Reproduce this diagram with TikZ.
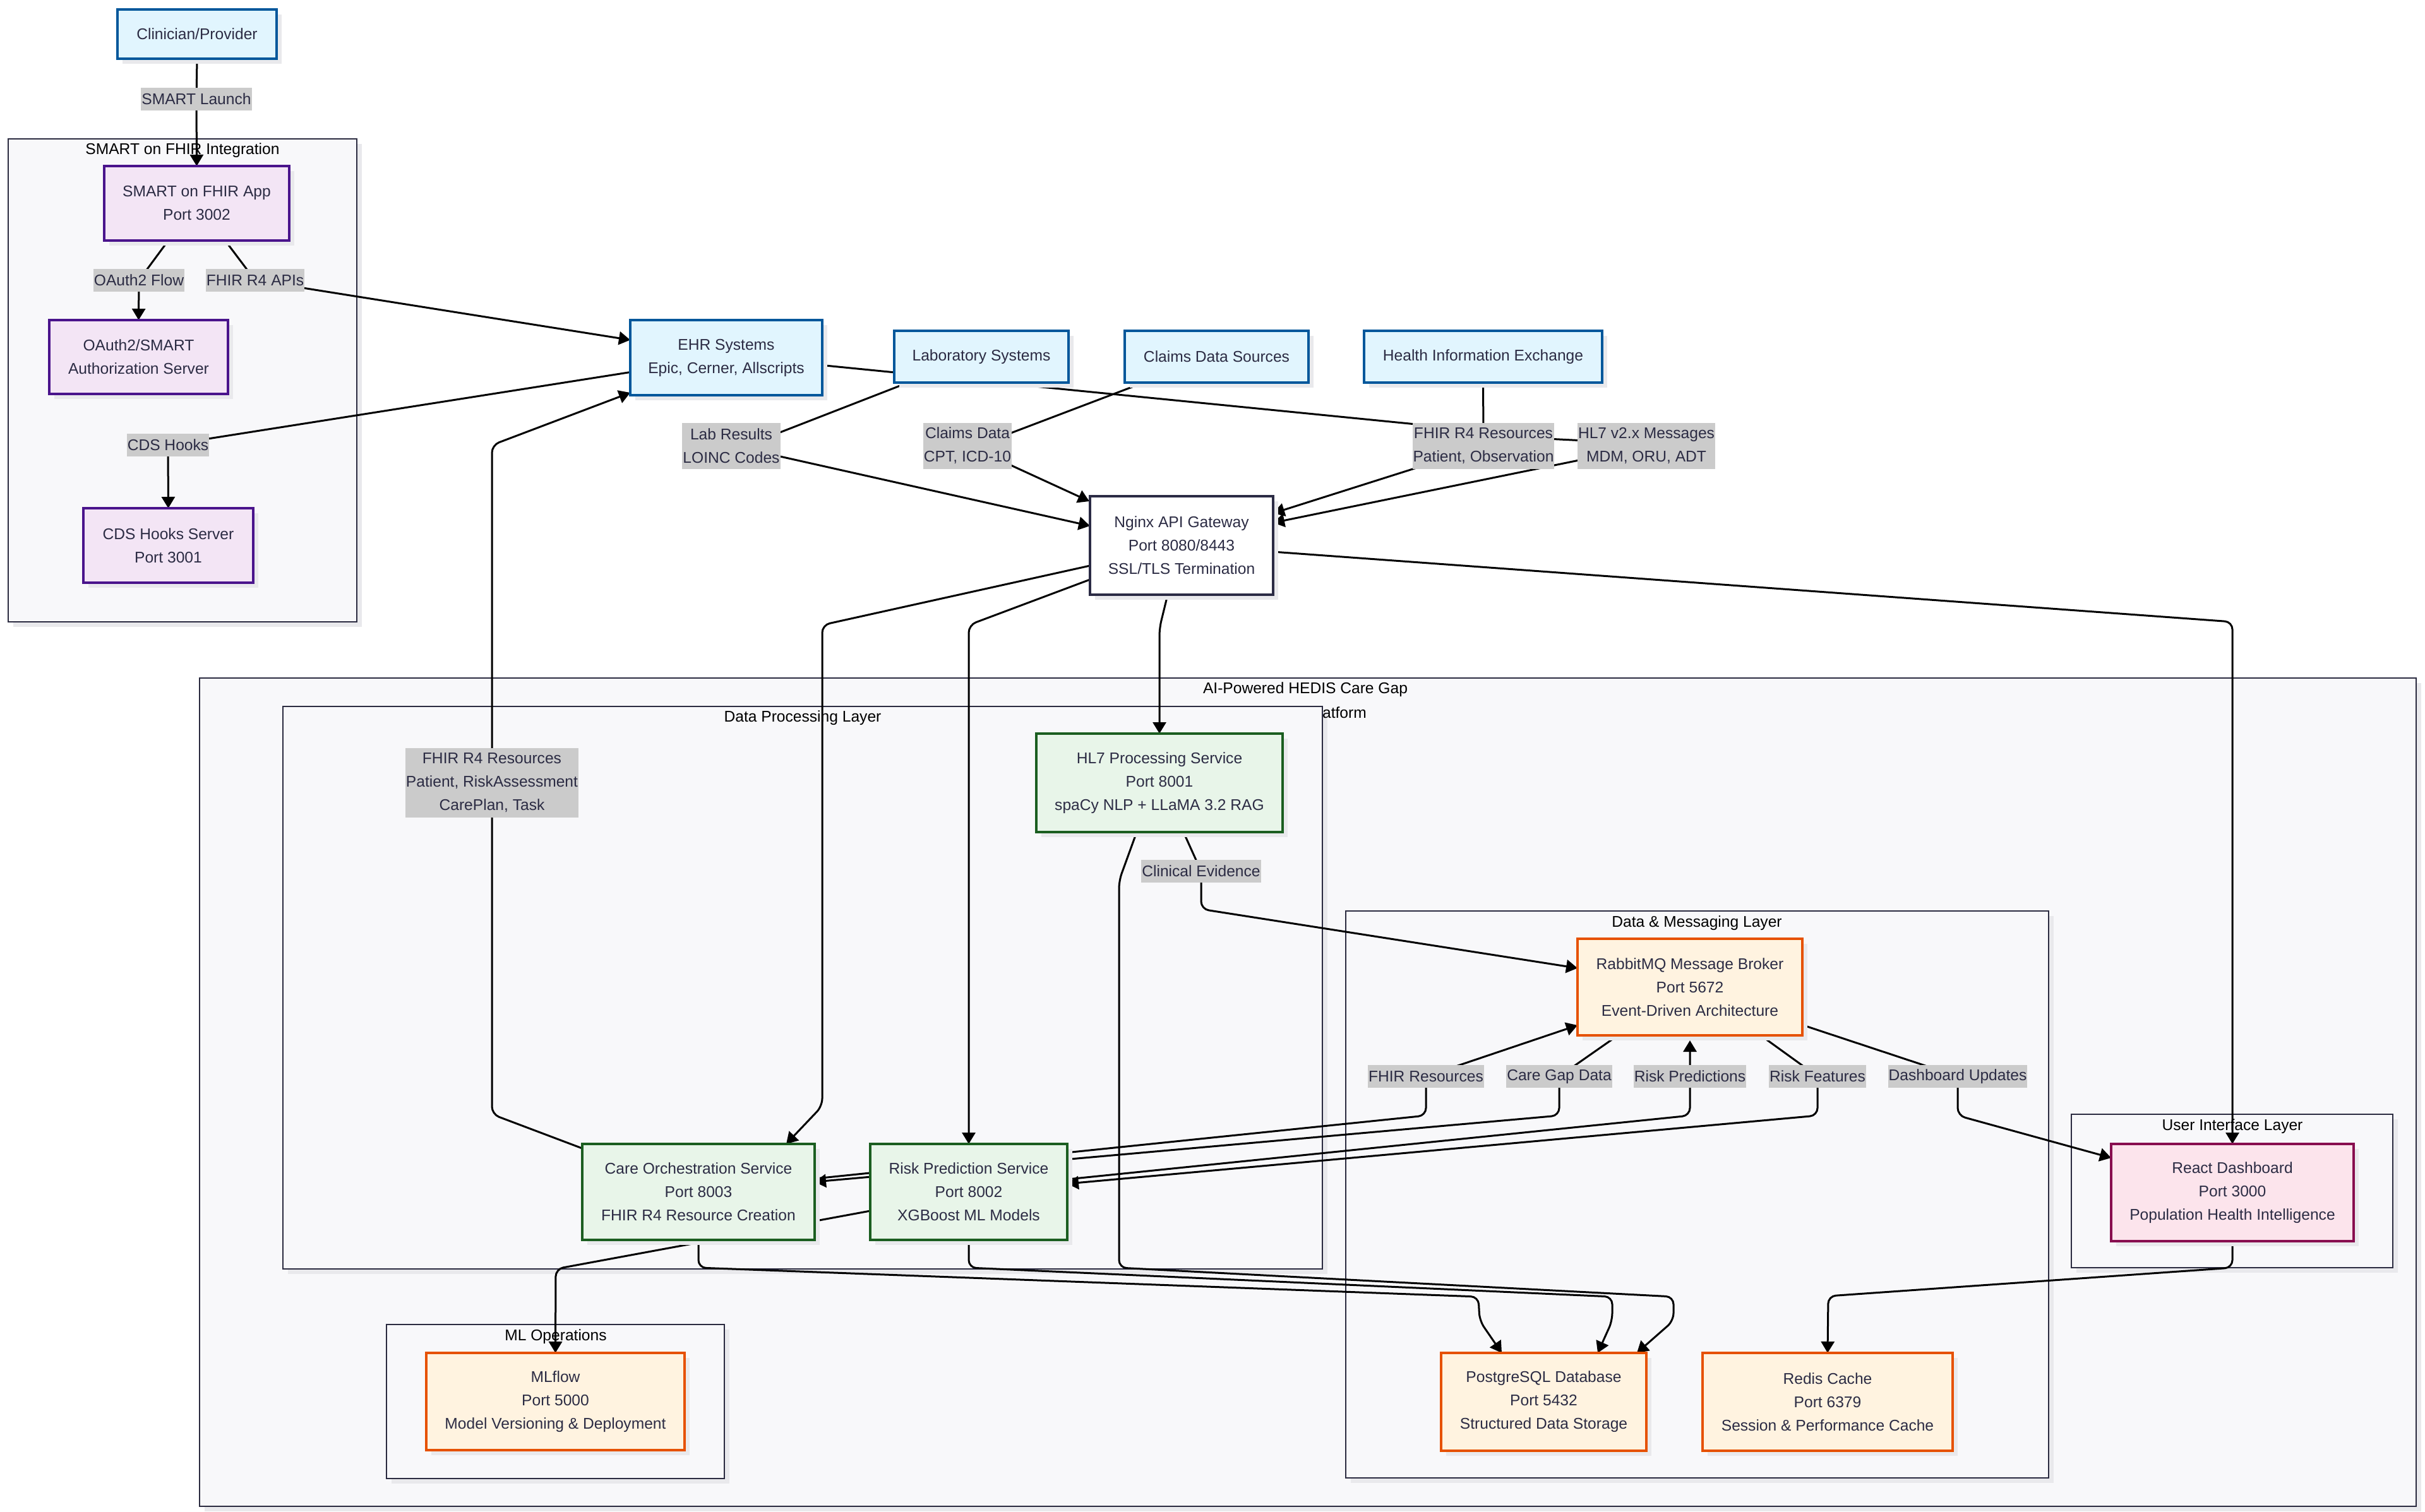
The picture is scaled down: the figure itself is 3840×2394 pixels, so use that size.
\documentclass[tikz,border=0pt]{standalone}
\usepackage{fontspec}
\setmainfont{Liberation Sans}
\usetikzlibrary{arrows.meta,calc,shadows}
\definecolor{extF}{HTML}{E1F5FE}\definecolor{extD}{HTML}{01579B}
\definecolor{smtF}{HTML}{F3E5F5}\definecolor{smtD}{HTML}{4A148C}
\definecolor{prcF}{HTML}{E8F5E9}\definecolor{prcD}{HTML}{1B5E20}
\definecolor{datF}{HTML}{FFF3E0}\definecolor{datD}{HTML}{E65100}
\definecolor{uiF}{HTML}{FCE4EC}\definecolor{uiD}{HTML}{880E4F}
\definecolor{gwD}{HTML}{2B2B45}
\definecolor{clF}{HTML}{F8F8FA}\definecolor{clD}{HTML}{2B2B40}
\definecolor{labF}{HTML}{CBCBCB}
\definecolor{txt}{HTML}{2C2C44}
\definecolor{shadowc}{HTML}{E9E9EC}
\pgfdeclarelayer{cl}\pgfdeclarelayer{ed}\pgfdeclarelayer{lb}
\pgfsetlayers{cl,ed,main,lb}
\newcommand\bx[7]{%
  \pgfmathsetmacro\bxw{(#5-#3)*0.5}%
  \pgfmathsetmacro\bxh{(#6-#4)*0.5}%
  \node[#2, minimum width=\bxw pt, minimum height=\bxh pt] (#1) at ({(#3+#5)/2},{(#4+#6)/2}) {#7};%
}
\newcommand\lbl[5]{%
  \pgfmathsetmacro\lblh{#4*18.5-0.5}%
  \node[lab, minimum height=\lblh pt] (#1) at (#2,#3) {#5};%
}
\newcommand\clbox[4]{%
  \draw[clus] (#1,#2) rectangle (#3,#4);%
}
\newcommand\clshadow[4]{%
  \fill[shadowc] ({#1+8},{#2+8}) rectangle ({#3+8},{#4+8});%
}
\begin{document}
\begin{tikzpicture}[x=0.5pt,y=-0.5pt,
  nodebase/.style={rectangle, draw, line width=1.6pt, inner sep=0pt, outer sep=0pt,
    align=center, text=txt, font=\fontsize{12.3pt}{18.5pt}\selectfont,
    drop shadow={shadow xshift=4pt,shadow yshift=-4pt,fill=shadowc,opacity=1}},
  ext/.style={nodebase, fill=extF, draw=extD},
  smt/.style={nodebase, fill=smtF, draw=smtD},
  proc/.style={nodebase, fill=prcF, draw=prcD},
  datn/.style={nodebase, fill=datF, draw=datD},
  uin/.style={nodebase, fill=uiF, draw=uiD},
  gw/.style={nodebase, fill=white, draw=gwD},
  lab/.style={rectangle, fill=labF, text=txt, inner xsep=0.5pt, inner ysep=0pt, outer sep=0pt,
    align=center, font=\fontsize{12.3pt}{18.5pt}\selectfont},
  clus/.style={fill=clF, draw=clD, line width=1.45pt},
  ctitle/.style={text=black, inner sep=0pt, font=\fontsize{12.3pt}{18.5pt}\selectfont},
  conn/.style={draw=black, line width=1.5pt, rounded corners=6pt, -{Triangle[length=9pt,width=10.5pt]}}
]
\useasboundingbox (0,0) rectangle (3840,2394);
\begin{pgfonlayer}{cl}
  \fill[white] (0,0) rectangle (3840,2394);
  % SMART cluster
  \clshadow{13}{220}{565}{985}
  \clbox{13}{220}{565}{985}
  \node[ctitle] (tSmart) at (289,238) {SMART on FHIR Integration};
  % main cluster
  \clshadow{316}{1074}{3826}{2386}
  \clbox{316}{1074}{3826}{2386}
  \clshadow{448}{1119}{2094}{2010}
  \clshadow{612}{2098}{1147}{2342}
  \clshadow{2131}{1443}{3244}{2341}
  \clshadow{3280}{1765}{3789}{2008}
  \node[ctitle] (tMain1) at (2067,1092) {AI-Powered HEDIS Care Gap};
  \node[ctitle] (tMain2) at (2118,1129) {Platform};
  \clbox{448}{1119}{2094}{2010}
  \node[ctitle] (tDPL) at (1271,1137) {Data Processing Layer};
  \clbox{612}{2098}{1147}{2342}
  \node[ctitle] (tML) at (880,2117) {ML Operations};
  \clbox{2131}{1443}{3244}{2341}
  \node[ctitle] (tDML) at (2687,1462) {Data \& Messaging Layer};
  \clbox{3280}{1765}{3789}{2008}
  \node[ctitle] (tUI) at (3535,1784) {User Interface Layer};
\end{pgfonlayer}

% nodes
\bx{clin}{ext}{186}{15}{438}{93}{Clinician/Provider}
\bx{smartapp}{smt}{165}{263}{458}{381}{SMART on FHIR App\\Port 3002}
\bx{oauth}{smt}{78}{507}{361}{624}{OAuth2/SMART\\Authorization Server}
\bx{cds}{smt}{132}{805}{401}{923}{CDS Hooks Server\\Port 3001}
\bx{ehr}{ext}{998}{507}{1302}{626}{EHR Systems\\Epic, Cerner, Allscripts}
\bx{lab}{ext}{1416}{524}{1692}{606}{Laboratory Systems}
\bx{claims}{ext}{1781}{524}{2072}{606}{Claims Data Sources}
\bx{hie}{ext}{2160}{524}{2537}{606}{Health Information Exchange}
\bx{nginx}{gw}{1726}{786}{2016}{942}{Nginx API Gateway\\Port 8080/8443\\SSL/TLS Termination}
\bx{hl7}{proc}{1641}{1162}{2031}{1318}{HL7 Processing Service\\Port 8001\\spaCy NLP + LLaMA 3.2 RAG}
\bx{careorch}{proc}{922}{1812}{1290}{1964}{Care Orchestration Service\\Port 8003\\FHIR R4 Resource Creation}
\bx{riskpred}{proc}{1378}{1812}{1690}{1964}{Risk Prediction Service\\Port 8002\\XGBoost ML Models}
\bx{rabbit}{datn}{2498}{1487}{2854}{1640}{RabbitMQ Message Broker\\Port 5672\\Event-Driven Architecture}
\bx{postgres}{datn}{2282}{2143}{2607}{2298}{PostgreSQL Database\\Port 5432\\Structured Data Storage}
\bx{redis}{datn}{2696}{2143}{3092}{2298}{Redis Cache\\Port 6379\\Session \& Performance Cache}
\bx{mlflow}{datn}{675}{2143}{1084}{2297}{MLflow\\Port 5000\\Model Versioning \& Deployment}
\bx{react}{uin}{3343}{1812}{3727}{1966}{React Dashboard\\Port 3000\\Population Health Intelligence}

% edge labels
\begin{pgfonlayer}{lb}
  \lbl{lSmart}{311}{157}{1}{SMART Launch}
  \lbl{lOauth}{220}{444}{1}{OAuth2 Flow}
  \lbl{lFhirApi}{404}{444}{1}{FHIR R4 APIs}
  \lbl{lCds}{266}{705}{1}{CDS Hooks}
  \lbl{lLab}{1158}{706}{2}{Lab Results\\LOINC Codes}
  \lbl{lClaims}{1532}{706}{2}{Claims Data\\CPT, ICD-10}
  \lbl{lFhirRes}{2349}{706}{2}{FHIR R4 Resources\\Patient, Observation}
  \lbl{lHl7}{2607}{706}{2}{HL7 v2.x Messages\\MDM, ORU, ADT}
  \lbl{lFhirRA}{779}{1240}{3}{FHIR R4 Resources\\Patient, RiskAssessment\\CarePlan, Task}
  \lbl{lClin}{1902}{1380}{1}{Clinical Evidence}
  \lbl{lFR}{2258}{1705}{1}{FHIR Resources}
  \lbl{lCGD}{2469}{1705}{1}{Care Gap Data}
  \lbl{lRP}{2676}{1705}{1}{Risk Predictions}
  \lbl{lRF}{2878}{1705}{1}{Risk Features}
  \lbl{lDU}{3100}{1705}{1}{Dashboard Updates}
\end{pgfonlayer}

% connectors
\begin{pgfonlayer}{ed}
  \draw[conn] (clin.south) -- (lSmart.center) -- (smartapp.north);
  \draw[conn] ($(smartapp.south)+(-45,0)$) -- (lOauth.center) -- (oauth.north);
  \draw[conn] ($(smartapp.south)+(45,0)$) -- (lFhirApi.center) -- ($(ehr.west)+(0,-28)$);
  \draw[conn] ($(ehr.west)+(0,23)$) -- (lCds.center) -- (cds.north);
  \draw[conn] ($(careorch.north west)+(0,7)$) -- (779,1765) -- (lFhirRA.center) -- (779,705) -- ($(ehr.south west)+(0,-4)$);
  \draw[conn] ($(ehr.east)+(0,12)$) -- (2262,674) -- (2262,735) -- ($(nginx.east)+(0,-51)$);
  \draw[conn] ($(lab.south west)+(22,0)$) -- (1222,690) -- (1222,720) -- ($(nginx.west)+(0,-31)$);
  \draw[conn] ($(claims.south west)+(30,0)$) -- (1590,690) -- (1590,732) -- ($(nginx.north west)+(-1,8)$);
  \draw[conn] (hie.south) -- (2349,690) -- (2510,698) -- (2510,727) -- ($(nginx.east)+(0,-36)$);
  \draw[conn] ($(nginx.west)+(0,32)$) -- (1302,990) -- (1302,1752) -- ($(careorch.north east)+(-45,0)$);
  \draw[conn] ($(nginx.west)+(0,54)$) -- (1534,990) -- (riskpred.north);
  \draw[conn] ($(nginx.south)+(-22,0)$) -- (1836,995) -- (hl7.north);
  \draw[conn] ($(nginx.east)+(0,10)$) -- (3535,985) -- (react.north);
  \draw[conn] ($(hl7.south)+(38,0)$) -- (lClin.center) -- (1902,1440) -- ($(rabbit.west)+(0,-30)$);
  \draw[conn] ($(hl7.south)+(-36,0)$) -- (1772,1395) -- (1772,2008) -- (2650,2054) -- (2650,2092) -- ($(postgres.north east)+(-15,0)$);
  \draw[conn] (careorch.south) -- (1106,2008) -- (2341,2054) -- (2343,2092) -- ($(postgres.north west)+(96,0)$);
  \draw[conn] (riskpred.south) -- (1534,2008) -- (2553,2054) -- (2553,2092) -- ($(postgres.north west)+(248,0)$);
  \draw[conn] ($(riskpred.west)+(0,30)$) -- (880,2010) -- (mlflow.north);
  \draw[conn] ($(careorch.east)+(0,-21)$) -- (2258,1767) -- (lFR.center) -- ($(rabbit.south west)+(0,-16)$);
  \draw[conn] ($(rabbit.south west)+(64,0)$) -- (lCGD.center) -- (2469,1767) -- ($(careorch.east)+(0,-16)$);
  \draw[conn] ($(riskpred.east)+(0,-20)$) -- (2676,1767) -- (lRP.center) -- ($(rabbit.south)+(0,8)$);
  \draw[conn] ($(rabbit.south east)+(-66,0)$) -- (lRF.center) -- (2878,1767) -- ($(riskpred.east)+(0,-13)$);
  \draw[conn] ($(rabbit.east)+(0,60)$) -- (lDU.center) -- (3100,1767) -- ($(react.west)+(0,-55)$);
  \draw[conn] (react.south) -- (3535,2008) -- (2895,2053) -- (redis.north);
\end{pgfonlayer}
\end{tikzpicture}
\end{document}
